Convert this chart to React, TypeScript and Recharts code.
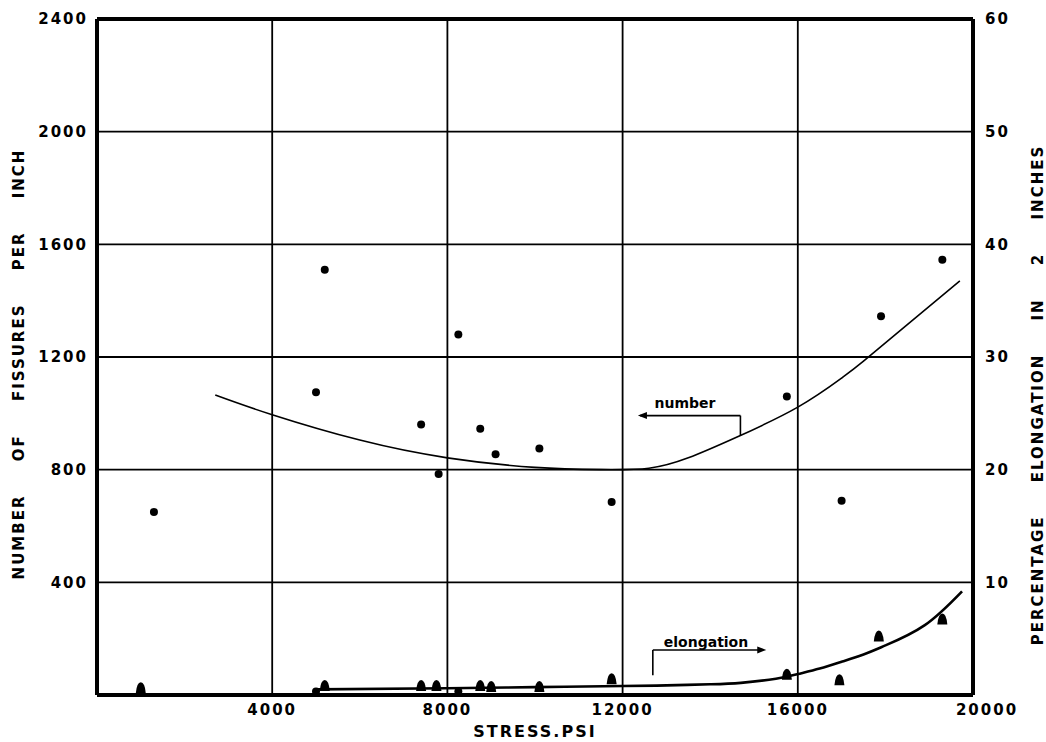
import React from 'react'
import {
  ComposedChart, Scatter, Line, XAxis, YAxis, CartesianGrid, ReferenceLine, ReferenceDot, Label,
} from 'recharts'

// fissure counts (circles, left axis)
const numberStress = [1300, 5000, 5200, 7400, 7800, 8250, 8750, 9100, 10100, 11750, 15750, 17000, 17900, 19300, 5000, 8250]
const numberValues = [650, 1075, 1510, 960, 785, 1280, 945, 855, 875, 685, 1060, 690, 1345, 1545, 12, 12]

// elongation (triangles, right axis)
const elongStress = [1000, 5200, 7400, 7750, 8750, 9000, 10100, 11750, 15750, 16950, 17850, 19300]
const elongValues = [0.6, 0.8, 0.8, 0.8, 0.8, 0.7, 0.7, 1.4, 1.8, 1.3, 5.2, 6.7]

// fitted curves
const numberCurveStress = [2700, 4000, 6000, 8000, 10000, 11500, 12600, 13500, 14600, 16000, 17000, 17500, 18500, 19700]
const numberCurveValues = [1065, 995, 905, 842, 808, 800, 805, 842, 915, 1022, 1125, 1185, 1315, 1470]
const elongCurveStress = [5000, 8000, 10000, 12000, 13000, 14000, 14700, 15500, 16000, 16500, 17000, 17500, 18000, 18900, 19750]
const elongCurveValues = [0.5, 0.6, 0.7, 0.8, 0.85, 0.95, 1.08, 1.45, 1.86, 2.35, 2.95, 3.6, 4.4, 6.2, 9.2]

const xTicks = [4000, 8000, 12000, 16000, 20000]
const leftTicks = [400, 800, 1200, 1600, 2000, 2400]
const rightTicks = [10, 20, 30, 40, 50, 60]

const numberPts = numberStress.map((s, i) => ({ s, v: numberValues[i] }))
const elongPts = elongStress.map((s, i) => ({ s, v: elongValues[i] }))
const numberCurve = numberCurveStress.map((s, i) => ({ s, v: numberCurveValues[i] }))
const elongCurve = elongCurveStress.map((s, i) => ({ s, v: elongCurveValues[i] }))

const FONT = '"DejaVu Sans", sans-serif'
const tickStyle = { fontSize: 15, fontWeight: 'bold', fill: '#000', fontFamily: FONT, letterSpacing: 2 }

const Dot = (p: any) => <circle cx={p.cx} cy={p.cy} r={4} fill="#000" />
const Tri = (p: any) => (
  <path d={`M${p.cx - 5},${p.cy + 5} Q${p.cx - 4},${p.cy - 6} ${p.cx},${p.cy - 6} Q${p.cx + 4},${p.cy - 6} ${p.cx + 5},${p.cy + 5} Z`} fill="#000" />
)
const LeftHead = (p: any) => <path d={`M${p.cx},${p.cy} l9,-3.5 l0,7 Z`} fill="#000" />
const RightHead = (p: any) => <path d={`M${p.cx},${p.cy} l-9,-3.5 l0,7 Z`} fill="#000" />

const XTick = (p: any) => {
  const shift = p.payload.value === 20000 ? 14 : 0
  return (
    <text x={p.x + shift} y={p.y + 12} textAnchor="middle" style={tickStyle}>{p.payload.value}</text>
  )
}

const titleStyle = { fontSize: 15, fontWeight: 'bold', fill: '#000', fontFamily: FONT, letterSpacing: 2, wordSpacing: 26 } as any

export default function App() {
  return (
    <div style={{ position: 'absolute', left: 0, top: 0, background: '#fff' }}>
      <ComposedChart width={1046} height={742} margin={{ top: 19, right: 0, bottom: 0, left: 0 }}>
        <CartesianGrid yAxisId="left" stroke="#000" strokeWidth={1.8} />
        <XAxis dataKey="s" type="number" domain={[0, 20000]} ticks={xTicks} allowDataOverflow
          height={47} tickLine={false} axisLine={{ stroke: '#000', strokeWidth: 4 }} tick={<XTick />}>
          <Label content={() => (
            <text x={535} y={737} textAnchor="middle" style={{ ...tickStyle, fontSize: 16 }}>STRESS.PSI</text>
          )} />
        </XAxis>
        <YAxis yAxisId="left" dataKey="v" type="number" domain={[0, 2400]} ticks={leftTicks} allowDataOverflow
          width={97} tickLine={false} tickMargin={3} axisLine={{ stroke: '#000', strokeWidth: 4 }} tick={tickStyle}>
          <Label content={() => (
            <text x={24} y={364} textAnchor="middle" transform="rotate(-90 24 364)" style={titleStyle}>NUMBER OF FISSURES PER INCH</text>
          )} />
        </YAxis>
        <YAxis yAxisId="right" orientation="right" dataKey="v" type="number" domain={[0, 60]} ticks={rightTicks} allowDataOverflow
          width={73} tickLine={false} tickMargin={6} axisLine={{ stroke: '#000', strokeWidth: 4 }} tick={{ ...tickStyle, textAnchor: 'start' }}>
          <Label content={() => (
            <text x={1043} y={395} textAnchor="middle" transform="rotate(-90 1043 395)" style={titleStyle}>PERCENTAGE ELONGATION IN 2 INCHES</text>
          )} />
        </YAxis>
        <ReferenceLine yAxisId="left" y={2400} stroke="#000" strokeWidth={4} />

        <Line yAxisId="left" data={numberCurve} dataKey="v" type="natural" stroke="#000" strokeWidth={1.6}
          dot={false} activeDot={false} isAnimationActive={false} />
        <Line yAxisId="right" data={elongCurve} dataKey="v" type="natural" stroke="#000" strokeWidth={2.6}
          dot={false} activeDot={false} isAnimationActive={false} />
        <Scatter yAxisId="left" data={numberPts} dataKey="v" shape={<Dot />} isAnimationActive={false} />
        <Scatter yAxisId="right" data={elongPts} dataKey="v" shape={<Tri />} isAnimationActive={false} />

        {/* "number" annotation */}
        <ReferenceLine yAxisId="left" segment={[{ x: 12400, y: 992 }, { x: 14690, y: 992 }]} stroke="#000" strokeWidth={1.6} />
        <ReferenceLine yAxisId="left" segment={[{ x: 14690, y: 992 }, { x: 14690, y: 920 }]} stroke="#000" strokeWidth={1.6} />
        <ReferenceDot yAxisId="left" x={12350} y={992} shape={<LeftHead />} />
        <ReferenceDot yAxisId="left" x={13550} y={1048} shape={() => (
          <text x={685} y={408} textAnchor="middle" style={{ fontSize: 14, fontWeight: 'bold', fontFamily: FONT, fill: '#000' }}>number</text>
        )} />

        {/* "elongation" annotation */}
        <ReferenceLine yAxisId="right" segment={[{ x: 12690, y: 4.0 }, { x: 15200, y: 4.0 }]} stroke="#000" strokeWidth={1.6} />
        <ReferenceLine yAxisId="right" segment={[{ x: 12690, y: 4.0 }, { x: 12690, y: 1.75 }]} stroke="#000" strokeWidth={1.6} />
        <ReferenceDot yAxisId="right" x={15280} y={4.0} shape={<RightHead />} />
        <ReferenceDot yAxisId="right" x={13950} y={4.9} shape={() => (
          <text x={706} y={647} textAnchor="middle" style={{ fontSize: 14, fontWeight: 'bold', fontFamily: FONT, fill: '#000' }}>elongation</text>
        )} />
      </ComposedChart>
    </div>
  )
}
